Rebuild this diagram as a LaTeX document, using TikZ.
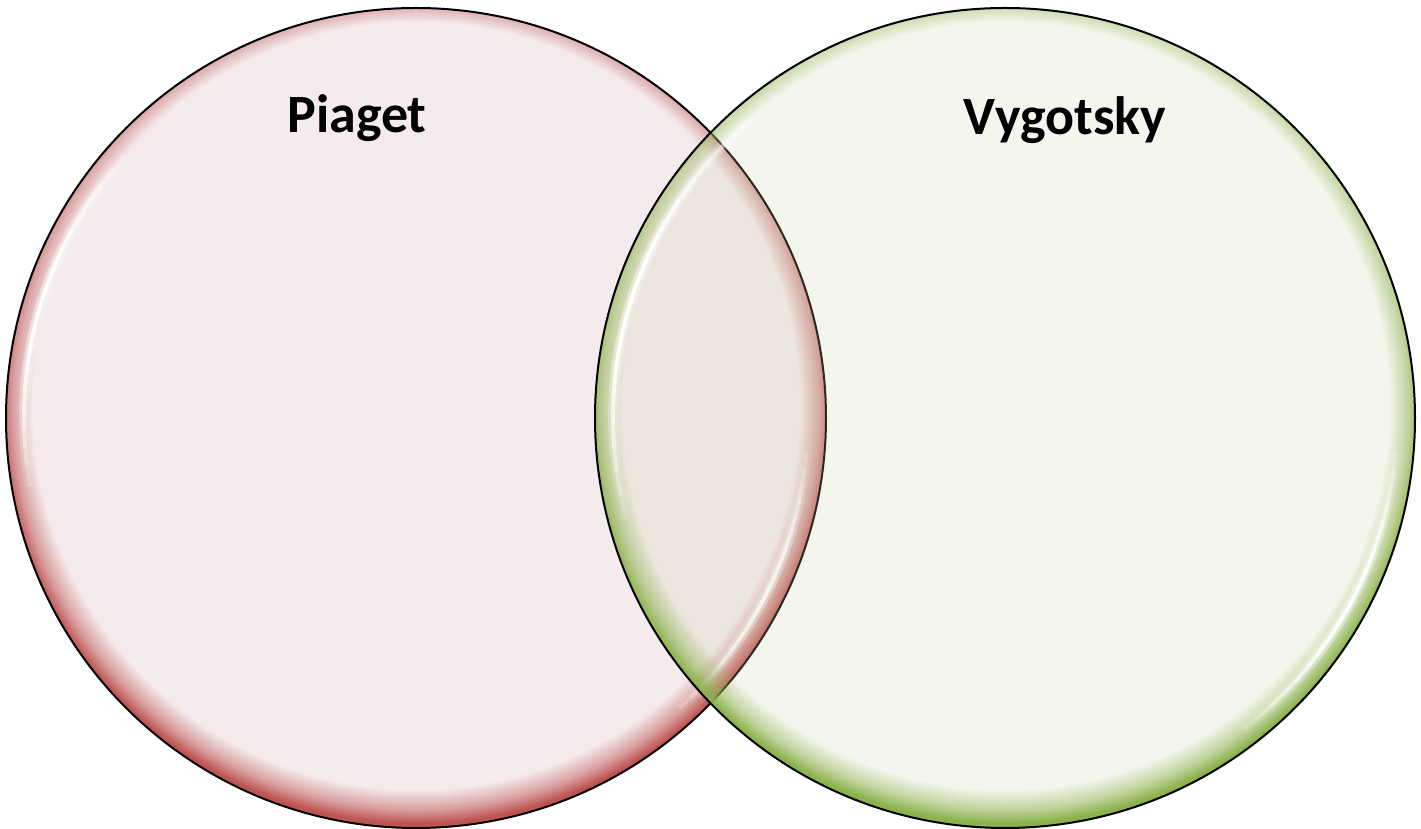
\documentclass[tikz,border=0pt]{standalone}
\usepackage{fontspec}
\setmainfont{Carlito}
\usepackage{xcolor}
\usetikzlibrary{fadings}
\definecolor{piagetfill}{RGB}{245,235,236}
\definecolor{piagetrim}{RGB}{190,84,82}
\definecolor{vygfill}{RGB}{200,210,170}
\definecolor{vygrim}{RGB}{140,178,76}
\pgfdeclareradialshading{rimshade}{\pgfpoint{0bp}{1.4bp}}{color(0bp)=(black); color(23.3bp)=(black); color(24.5bp)=(black!50); color(25.3bp)=(black!0); color(50bp)=(black!0)}
\pgfdeclarefading{rimfade}{\pgfuseshading{rimshade}}
\newcommand{\glint}[3]{%
  \foreach \i [evaluate=\i as \op using {sin(9*\i)}, evaluate=\i as \ang using {#2+(#3-#2)*\i/20}] in {0,...,19}{
    \draw[white, line width=5pt, opacity=0.4*\op] (#1) ++(\ang:392) arc[start angle=\ang, delta angle={(#3-#2)/20}, radius=392];
    \draw[white, line width=2pt, opacity=\op] (#1) ++(\ang:392) arc[start angle=\ang, delta angle={(#3-#2)/20}, radius=392];
  }}
\begin{document}
\begin{tikzpicture}[x=0.5pt,y=0.5pt]
  \useasboundingbox (0,0) rectangle (1421,829);
  \coordinate (p) at (416,411);
  \coordinate (v) at (1005,411);

  \fill[piagetfill] (p) circle (410);
  \fill[piagetrim, path fading=rimfade] (p) circle (410);
  \glint{p}{135}{190}
  \glint{p}{-50}{-5}
  \draw[black, line width=1pt] (p) circle (410);

  \fill[vygfill, fill opacity=0.2] (v) circle (410);
  \fill[vygrim, path fading=rimfade] (v) circle (410);
  \glint{v}{125}{195}
  \glint{v}{-55}{-5}
  \draw[black, line width=1pt] (v) circle (410);

  \node[anchor=base, font=\bfseries\fontsize{27}{32}\selectfont] (piaget) at (357,696) {Piaget};
  \node[anchor=base, font=\bfseries\fontsize{27}{32}\selectfont] (vygotsky) at (1065,694) {Vygotsky};
\end{tikzpicture}
\end{document}
